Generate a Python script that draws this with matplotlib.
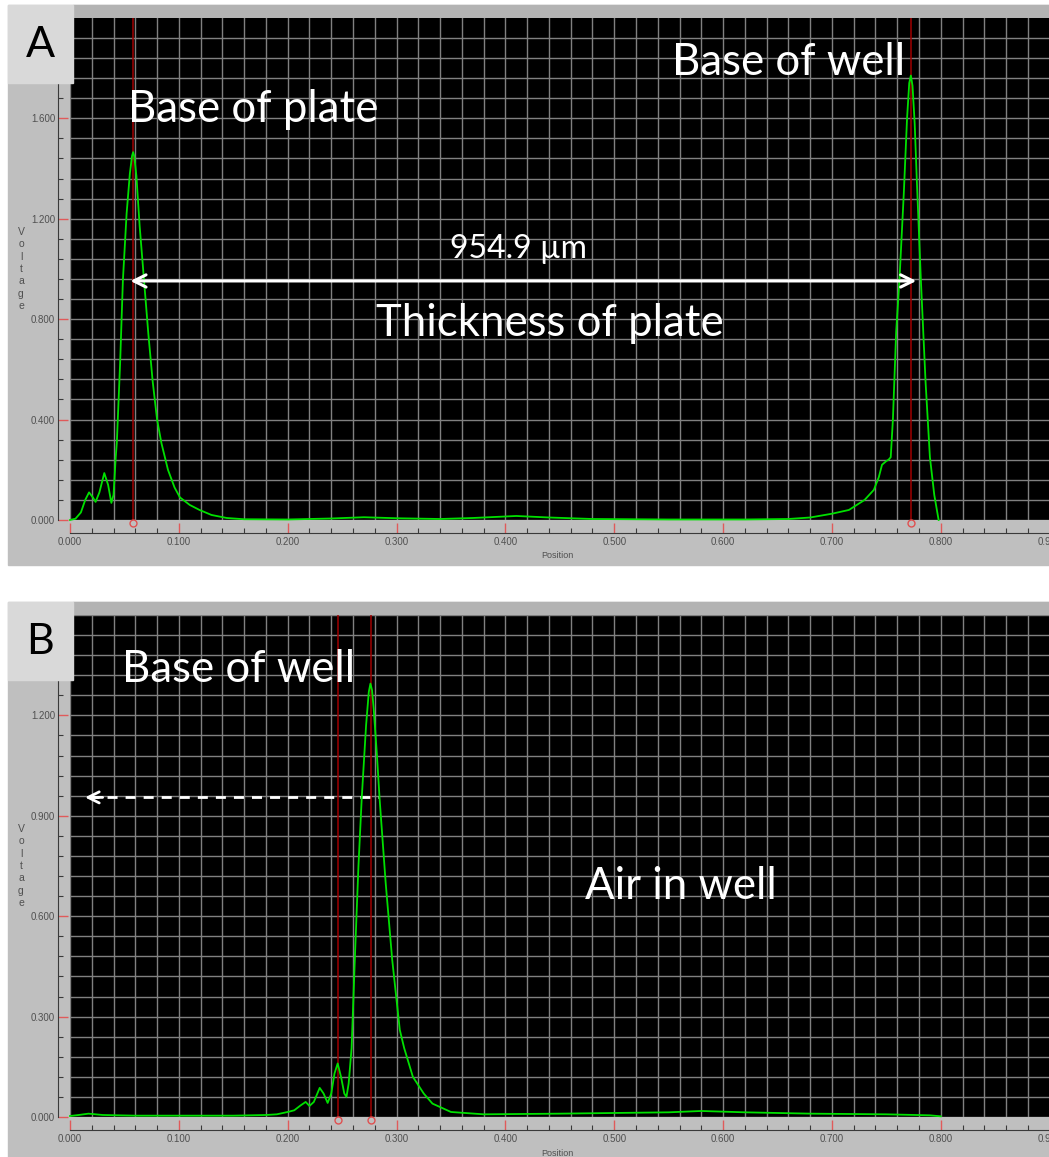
import matplotlib
matplotlib.use("Agg")
import matplotlib.pyplot as plt
from matplotlib.patches import Rectangle
from matplotlib.ticker import MultipleLocator, FormatStrFormatter
from matplotlib.transforms import offset_copy

# trace A: plate base peak + well base peak (position, voltage)
pos_a = [0.000, 0.005, 0.010, 0.014, 0.0175, 0.021, 0.0235, 0.027, 0.0315, 0.035,
         0.038, 0.040, 0.042, 0.043, 0.046, 0.0486, 0.052, 0.055, 0.057, 0.058,
         0.059, 0.061, 0.064, 0.068, 0.072, 0.076, 0.080, 0.084, 0.090, 0.096,
         0.101, 0.110, 0.119, 0.130, 0.144, 0.160, 0.200, 0.240, 0.270, 0.300,
         0.340, 0.370, 0.410, 0.440, 0.480, 0.550, 0.620, 0.660, 0.680, 0.700,
         0.7156, 0.730, 0.7385, 0.743, 0.746, 0.750, 0.752, 0.754, 0.756, 0.759,
         0.762, 0.766, 0.769, 0.771, 0.7725, 0.774, 0.776, 0.778, 0.7817, 0.786,
         0.790, 0.794, 0.798]
volt_a = [0.000, 0.005, 0.030, 0.080, 0.110, 0.090, 0.072, 0.110, 0.187, 0.140,
          0.068, 0.100, 0.250, 0.306, 0.620, 0.955, 1.220, 1.380, 1.450, 1.465,
          1.450, 1.370, 1.170, 0.955, 0.740, 0.550, 0.400, 0.306, 0.200, 0.130,
          0.090, 0.060, 0.040, 0.020, 0.008, 0.003, 0.002, 0.006, 0.011, 0.007,
          0.004, 0.008, 0.016, 0.010, 0.004, 0.002, 0.002, 0.004, 0.010, 0.025,
          0.040, 0.080, 0.120, 0.170, 0.220, 0.235, 0.240, 0.250, 0.400, 0.750,
          0.955, 1.300, 1.600, 1.740, 1.770, 1.730, 1.580, 1.350, 0.955, 0.550,
          0.250, 0.100, 0.000]

# trace B: well base only
pos_b = [0.000, 0.008, 0.017, 0.030, 0.060, 0.100, 0.150, 0.180, 0.190, 0.200,
         0.206, 0.212, 0.2165, 0.220, 0.224, 0.2294, 0.233, 0.2367, 0.240, 0.243,
         0.2459, 0.249, 0.252, 0.254, 0.256, 0.2587, 0.262, 0.265, 0.268, 0.272,
         0.2745, 0.276, 0.2775, 0.279, 0.282, 0.2844, 0.290, 0.296, 0.303, 0.307,
         0.315, 0.325, 0.333, 0.350, 0.380, 0.450, 0.500, 0.550, 0.580, 0.620,
         0.680, 0.750, 0.790, 0.800]
volt_b = [0.003, 0.006, 0.010, 0.006, 0.004, 0.004, 0.004, 0.006, 0.008, 0.015,
          0.020, 0.035, 0.045, 0.033, 0.045, 0.087, 0.070, 0.042, 0.070, 0.130,
          0.160, 0.120, 0.070, 0.060, 0.100, 0.206, 0.500, 0.750, 0.952, 1.170,
          1.270, 1.295, 1.275, 1.220, 1.080, 0.952, 0.700, 0.470, 0.260, 0.206,
          0.120, 0.070, 0.040, 0.015, 0.008, 0.010, 0.012, 0.014, 0.018, 0.014,
          0.010, 0.008, 0.005, 0.002]

cursors_a = [0.0578, 0.7725]
cursors_b = [0.2459, 0.2761]

W, H = 1049, 1157
XSCALE = 1088.5  # px per position unit


def fx(px):
    return px / W


def fy(py):
    return 1 - py / H


fig = plt.figure(figsize=(W / 100, H / 100), dpi=100)
fig.patch.set_facecolor("white")
txt_font = ["Lato", "DejaVu Sans"]
tick_font = ["Liberation Sans", "DejaVu Sans"]


def panel(top_px, zero_px, y_max, y_minor, y_major, letter, frame_top, frame_bot,
          pos, volt, cursors):
    # grey window frame + title strip + letter box
    fig.patches.append(Rectangle((fx(8), fy(frame_bot)), fx(W - 8), (frame_bot - frame_top) / H,
                                 transform=fig.transFigure, color="#bfbfbf", zorder=-2))
    fig.patches.append(Rectangle((fx(73), fy(top_px)), fx(W - 73), (top_px - frame_top) / H,
                                 transform=fig.transFigure, color="#b3b3b3", zorder=-1))
    fig.patches.append(Rectangle((fx(8), fy(frame_top + 78)), fx(65), 78 / H,
                                 transform=fig.transFigure, color="#d9d9d9", zorder=5))
    fig.text(fx(40), fy(frame_top + 40), letter, fontsize=31, family=txt_font,
             ha="center", va="center", zorder=6)

    ax = fig.add_axes([fx(70), fy(zero_px), fx(1100 - 70), (zero_px - top_px) / H])
    ax.set_facecolor("black")
    ax.set_xlim(0, (1100 - 70) / XSCALE)
    ax.set_ylim(0, y_max)
    for s in ["top", "right"]:
        ax.spines[s].set_visible(False)
    ax.spines["left"].set_position(("outward", 12 * 0.72))
    ax.spines["bottom"].set_position(("outward", 13 * 0.72))
    for s in ["left", "bottom"]:
        ax.spines[s].set_color("#3a3a3a")
        ax.spines[s].set_linewidth(0.8)

    ax.xaxis.set_major_locator(MultipleLocator(0.1))
    ax.xaxis.set_minor_locator(MultipleLocator(0.02))
    ax.yaxis.set_major_locator(MultipleLocator(y_major))
    ax.yaxis.set_minor_locator(MultipleLocator(y_minor))
    ax.xaxis.set_major_formatter(FormatStrFormatter("%.3f"))
    ax.yaxis.set_major_formatter(FormatStrFormatter("%.3f"))
    ax.tick_params(which="major", direction="in", length=7.2, width=1.0,
                   color="#e05a5a", labelsize=7, labelcolor="#505050")
    ax.tick_params(which="minor", direction="in", length=3.6, width=0.8, color="#3a3a3a")
    ax.tick_params(axis="y", which="major", pad=2)
    ax.tick_params(axis="x", which="major", pad=3)
    for lab in ax.get_xticklabels() + ax.get_yticklabels():
        lab.set_family(tick_font)
    ax.grid(which="both", color="#808080", lw=1.0)

    for c in cursors:
        ax.axvline(c, color="#a00000", lw=1.1, zorder=2)
        ax.plot(c, 0, marker="o", ms=5, mfc="none", mec="#e05050", mew=1.0,
                transform=offset_copy(ax.transData, fig=fig, y=-3, units="dots"),
                clip_on=False, zorder=4)
    ax.plot(pos, volt, color="#00e000", lw=1.3, zorder=3, clip_on=False)

    fig.text(fx(21), fy((top_px + zero_px) / 2), "V\no\nl\nt\na\ng\ne", ha="center",
             va="center", fontsize=7.5, linespacing=1.3, color="#505050", family=tick_font)
    fig.text(fx(557), fy(zero_px + 36), "Position", ha="center", va="center",
             fontsize=6.5, color="#505050", family=tick_font)
    return ax


ax_a = panel(18, 520, 502 / 251.1, 0.08, 0.4, "A", 5, 565, pos_a, volt_a, cursors_a)
ax_b = panel(615, 1117, 1.5, 0.06, 0.3, "B", 602, 1157, pos_b, volt_b, cursors_b)

big = 31.5

# panel A annotations
ax_a.annotate("", xy=(0.0555, 0.952), xytext=(0.7775, 0.952),
              arrowprops=dict(arrowstyle="<->", color="white", lw=2.2,
                              mutation_scale=22, shrinkA=0, shrinkB=0))
fig.text(fx(128), fy(122), "Base of plate", color="white", fontsize=big, family=txt_font)
fig.text(fx(672), fy(75), "Base of well", color="white", fontsize=big, family=txt_font)
fig.text(fx(450), fy(258), "954.9 µm", color="white", fontsize=23, family=txt_font)
fig.text(fx(376), fy(336), "Thickness of plate", color="white", fontsize=big, family=txt_font)

# panel B annotations
ax_b.plot([0.0175, 0.284], [0.955, 0.955], color="white", lw=2.0, dashes=(3.6, 2.9))
ax_b.annotate("", xy=(0.0138, 0.955), xytext=(0.03, 0.955),
              arrowprops=dict(arrowstyle="->", color="white", lw=2.0,
                              mutation_scale=20, shrinkA=0, shrinkB=0))
fig.text(fx(122), fy(682), "Base of well", color="white", fontsize=big, family=txt_font)
fig.text(fx(585), fy(899), "Air in well", color="white", fontsize=big, family=txt_font)

fig.savefig("out.png", dpi=100)
